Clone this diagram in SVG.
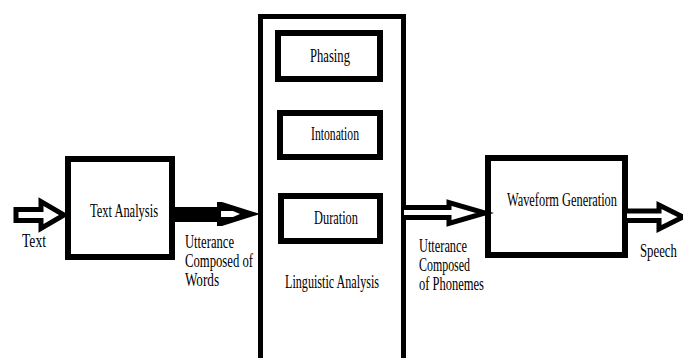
<svg xmlns="http://www.w3.org/2000/svg" width="683" height="358" viewBox="0 0 683 358">
<style>
.box{fill:#fff;stroke:#000;stroke-width:6}
.big{fill:#fff;stroke:#000;stroke-width:5}
.t{font-family:"Liberation Serif","Times New Roman",serif;font-size:18px;fill:#000}
.ha{fill:#fff;stroke:#000;stroke-width:5;stroke-linejoin:miter}
</style>
<rect width="683" height="358" fill="#fff"/>
<g id="linguistic-analysis">
<rect class="big" x="260.5" y="16.5" width="143" height="360"/>
<text class="t" x="285" y="288" textLength="94" lengthAdjust="spacingAndGlyphs">Linguistic Analysis</text>
</g>
<g id="phasing">
<rect class="box" x="278" y="33" width="102" height="46"/>
<text class="t" x="310" y="62" textLength="40" lengthAdjust="spacingAndGlyphs">Phasing</text>
</g>
<g id="intonation">
<rect class="box" x="280" y="113" width="100" height="44"/>
<text class="t" x="311" y="140" textLength="48" lengthAdjust="spacingAndGlyphs">Intonation</text>
</g>
<g id="duration">
<rect class="box" x="281" y="196" width="99" height="45"/>
<text class="t" x="314" y="224" textLength="44" lengthAdjust="spacingAndGlyphs">Duration</text>
</g>
<g id="text-analysis">
<rect class="box" x="68" y="159" width="104" height="98"/>
<text class="t" x="90" y="217" textLength="68" lengthAdjust="spacingAndGlyphs">Text Analysis</text>
</g>
<g id="waveform-generation">
<rect class="box" x="488" y="158" width="137" height="97"/>
<text class="t" x="507" y="206" textLength="110" lengthAdjust="spacingAndGlyphs">Waveform Generation</text>
</g>
<g id="connectors">
<path class="ha" d="M16,209.5 H41 V201.5 L64,215 L41,228.5 V220.5 H16 Z"/>
<rect x="172" y="207" width="46" height="15" fill="#000"/>
<path d="M217,202 L222,202 L260,214 L222,226 L217,226 Z" fill="#000"/>
<path d="M221,211 L233,211 L240,214 L233,217 L221,217 Z" fill="#fff"/>
<path class="ha" d="M404,207.5 H449 V202.5 L485,213 L449,223.5 V217.5 H404"/>
<path class="ha" d="M627,211 H659 V205 L683,217 L659,229 V220.5 H627"/>
</g>
<g id="labels">
<text class="t" x="22" y="247" textLength="24" lengthAdjust="spacingAndGlyphs">Text</text>
<text class="t" x="185" y="248" textLength="49" lengthAdjust="spacingAndGlyphs">Utterance</text>
<text class="t" x="185" y="267" textLength="68" lengthAdjust="spacingAndGlyphs">Composed of</text>
<text class="t" x="185" y="286" textLength="34" lengthAdjust="spacingAndGlyphs">Words</text>
<text class="t" x="419" y="252" textLength="48" lengthAdjust="spacingAndGlyphs">Utterance</text>
<text class="t" x="419" y="271" textLength="51" lengthAdjust="spacingAndGlyphs">Composed</text>
<text class="t" x="419" y="290" textLength="65" lengthAdjust="spacingAndGlyphs">of Phonemes</text>
<text class="t" transform="translate(640 257) scale(0.71 1)" x="0" y="0">Speech</text>
</g>
</svg>
